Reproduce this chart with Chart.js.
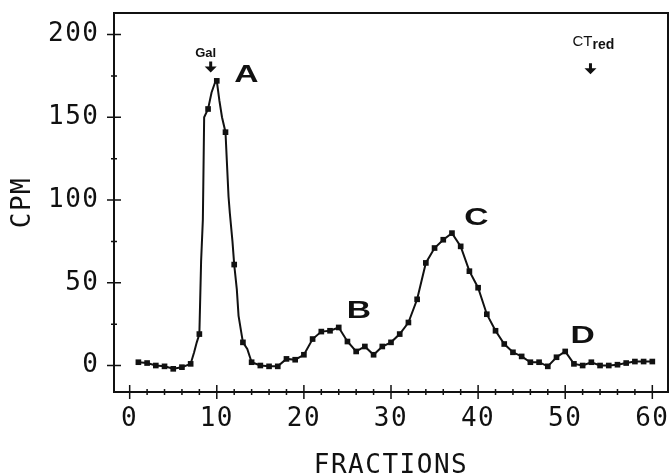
<!DOCTYPE html>
<html>
<head>
<meta charset="utf-8">
<script src="https://cdn.jsdelivr.net/npm/chart.js@4.4.1/dist/chart.umd.min.js"></script>
<style>
  html, body { margin: 0; padding: 0; background: #fff; }
  canvas { display: block; }
</style>
</head>
<body>
<canvas id="fractionChart" width="672" height="476"></canvas>
<script>
// Fraction number and counts per minute
const fractions = [
  1, 2, 3, 4, 5, 6, 7, 7.4, 7.7,
  8, 8.2, 8.4, 8.45, 8.55, 9, 9.4, 9.8, 10, 10.3, 10.6,
  11, 11.15, 11.35, 11.5, 11.8, 12, 12.3, 12.5, 13, 13.5, 14,
  15, 16, 17, 18, 19, 20, 21, 22, 23, 24, 25, 26, 27, 28, 29, 30,
  31, 32, 33, 34, 35, 36, 37, 38, 39, 40, 41, 42, 43, 44, 45,
  46, 47, 48, 49, 50, 51, 52, 53, 54, 55, 56, 57, 58, 59, 60
];
const cpm = [
  2, 1.5, 0, -0.5, -2, -1, 1, 8, 14,
  19, 63, 88, 108, 150, 155, 165, 171, 172, 160, 150,
  141, 124, 102, 92, 75, 61, 46, 30, 14, 10, 2,
  0, -0.5, -0.5, 4, 3.5, 6.5, 16, 20.5, 21, 23, 14.5, 8.5, 11.5, 6.5, 11.5, 14,
  19, 26, 40, 62, 71, 76, 80, 72, 57, 47, 31, 21, 13, 8, 5.5,
  2, 2, -0.5, 5, 8.5, 1, 0, 2, 0, 0, 0.5, 1.5, 2.4, 2.4, 2.4
];

// axis labels and the tick marks between them
const xTicks = [0, 10, 20, 30, 40, 50, 60];
const yTicks = [0, 50, 100, 150, 200];
const xMinorStep = 2;
const yMinorStep = 25;

// peak letters and the two marker arrows (fraction, cpm at text baseline)
const peakNames = ["A", "B", "C", "D"];
const peakAt = [[13.4, 171.6], [26.3, 29], [39.8, 85.2], [52, 13.9]];
const galAt = [9.3, 177];
const ctRedAt = [52.9, 176];

const ink = "#111";
const plotterFont = { family: "'DejaVu Sans Mono', monospace", size: 26 };

const points = fractions.map((f, i) => ({ x: f, y: cpm[i] }));

function tickList(labels, step) {
  const out = [];
  const first = labels[0], last = labels[labels.length - 1];
  for (let v = first; v <= last; v += step) out.push({ value: v });
  return out;
}

function drawArrow(ctx, x, tipY) {
  ctx.beginPath();
  ctx.rect(x - 1.5, tipY - 11, 3, 6);
  ctx.moveTo(x - 6, tipY - 6);
  ctx.lineTo(x + 6, tipY - 6);
  ctx.lineTo(x, tipY);
  ctx.closePath();
  ctx.fill();
}

// frame, crossing tick marks and the hand lettering
const plotterDecor = {
  id: "plotterDecor",
  beforeDraw(chart) {
    chart.ctx.letterSpacing = "1.5px";
  },
  afterDraw(chart) {
    const { ctx, chartArea: a, scales } = chart;
    const xs = scales.x, ys = scales.y;
    ctx.save();
    ctx.letterSpacing = "0px";
    ctx.strokeStyle = ink;
    ctx.fillStyle = ink;

    ctx.lineWidth = 2;
    ctx.strokeRect(a.left, a.top, a.right - a.left, a.bottom - a.top);

    ctx.lineWidth = 1.5;
    ctx.beginPath();
    xs.ticks.forEach(t => {
      const px = xs.getPixelForValue(t.value);
      const len = xTicks.includes(t.value) ? 7 : 3;
      ctx.moveTo(px, a.bottom - len);
      ctx.lineTo(px, a.bottom + len);
    });
    ys.ticks.forEach(t => {
      const py = ys.getPixelForValue(t.value);
      const len = yTicks.includes(t.value) ? 7 : 3;
      ctx.moveTo(a.left - len, py);
      ctx.lineTo(a.left + len, py);
    });
    ctx.stroke();

    // peak letters
    ctx.textAlign = "center";
    ctx.textBaseline = "alphabetic";
    ctx.font = "bold 24px 'Liberation Sans', sans-serif";
    peakNames.forEach((name, i) => {
      const px = xs.getPixelForValue(peakAt[i][0]);
      const py = ys.getPixelForValue(peakAt[i][1]);
      ctx.save();
      ctx.translate(px, py);
      ctx.scale(1.4, 1);
      ctx.fillText(name, 0, 0);
      ctx.restore();
    });

    // Gal marker
    const gx = xs.getPixelForValue(galAt[0]);
    const gy = ys.getPixelForValue(galAt[1]);
    drawArrow(ctx, gx, gy);
    ctx.font = "bold 13px 'Liberation Sans', sans-serif";
    ctx.fillText("Gal", gx - 5, gy - 16);

    // CT red marker
    const cx = xs.getPixelForValue(ctRedAt[0]);
    const cy = ys.getPixelForValue(ctRedAt[1]);
    drawArrow(ctx, cx, cy);
    ctx.textAlign = "left";
    ctx.font = "15px 'Liberation Sans', sans-serif";
    ctx.fillText("CT", cx - 18, cy - 28);
    const ctW = ctx.measureText("CT").width;
    ctx.font = "bold 14px 'Liberation Sans', sans-serif";
    ctx.fillText("red", cx - 18 + ctW, cy - 25);

    ctx.restore();
  }
};

const config = {
  type: "line",
  data: {
    datasets: [
      {
        data: points,
        borderColor: ink,
        borderWidth: 2,
        tension: 0,
        pointStyle: "rect",
        pointBackgroundColor: ink,
        pointBorderWidth: 0,
        pointRadius: ctx => (Number.isInteger(ctx.raw && ctx.raw.x) ? 4 : 0),
      },
    ],
  },
  options: {
    responsive: false,
    animation: false,
    devicePixelRatio: 1,
    layout: { autoPadding: false, padding: { top: 13, right: 4, left: 0, bottom: 0 } },
    plugins: {
      legend: { display: false },
      tooltip: { enabled: false },
    },
    scales: {
      x: {
        type: "linear",
        min: -1.8,
        max: 61.8,
        grid: { display: false },
        border: { display: false },
        ticks: {
          autoSkip: false,
          maxRotation: 0,
          padding: 4,
          color: ink,
          font: plotterFont,
          callback: v => (xTicks.includes(v) ? String(v) : ""),
        },
        afterBuildTicks(scale) {
          scale.ticks = tickList(xTicks, xMinorStep);
        },
        title: {
          display: true,
          text: "FRACTIONS",
          color: ink,
          font: { ...plotterFont, lineHeight: 1 },
          padding: { top: 0, bottom: -3 },
        },
        afterFit(scale) {
          scale.height = 84;
          scale.paddingLeft = 0;
          scale.paddingRight = 0;
        },
      },
      y: {
        min: -16,
        max: 213,
        grid: { display: false },
        border: { display: false },
        ticks: {
          autoSkip: false,
          padding: 6.5,
          color: ink,
          font: plotterFont,
          callback: v => (yTicks.includes(v) ? String(v) : ""),
        },
        afterBuildTicks(scale) {
          scale.ticks = tickList(yTicks, yMinorStep);
        },
        title: {
          display: true,
          text: "CPM",
          color: ink,
          font: { ...plotterFont, lineHeight: 1.2 },
          padding: { top: 8, bottom: 0 },
        },
        afterFit(scale) {
          scale.width = 114;
          scale.paddingTop = 0;
          scale.paddingBottom = 0;
        },
      },
    },
  },
  plugins: [plotterDecor],
};

const fractionChart = new Chart(document.getElementById("fractionChart"), config);
</script>
</body>
</html>
